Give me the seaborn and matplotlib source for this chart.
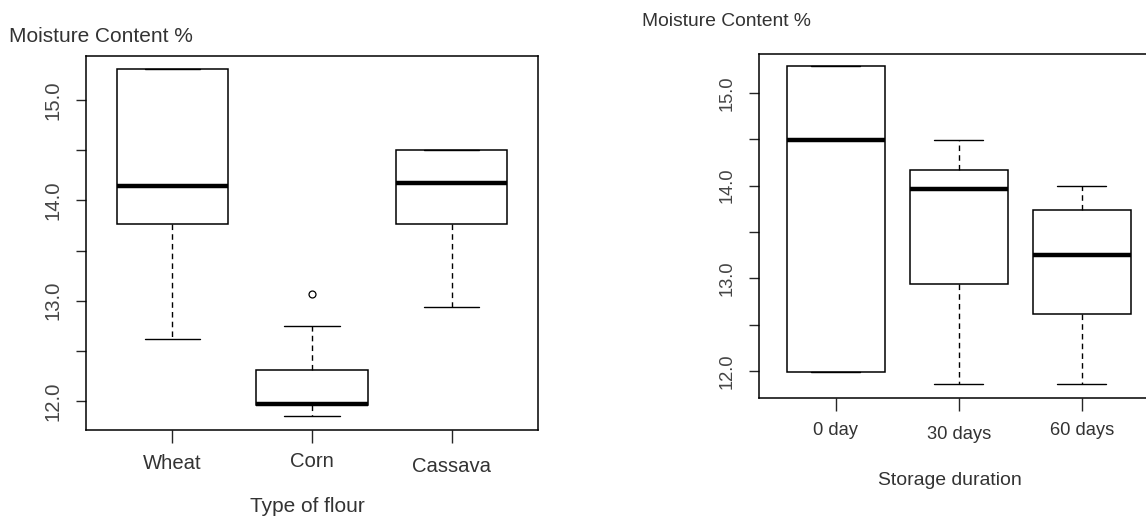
import matplotlib
matplotlib.use("Agg")
import pandas as pd
import matplotlib.pyplot as plt
import seaborn as sns
from matplotlib import font_manager
from matplotlib.transforms import ScaledTranslation

# Box statistics: whisker low, Q1, median, Q3, whisker high
flour_types = ["Wheat", "Corn", "Cassava"]
flour_low = [12.62, 11.85, 12.94]
flour_q1 = [13.76, 11.955, 13.76]
flour_med = [14.145, 11.97, 14.17]
flour_q3 = [15.31, 12.31, 14.50]
flour_high = [15.31, 12.75, 14.50]
flour_outliers = [[], [13.07], []]

storage_days = ["0 day", "30 days", "60 days"]
storage_low = [11.99, 11.86, 11.86]
storage_q1 = [11.99, 12.94, 12.62]
storage_med = [14.49, 13.96, 13.25]
storage_q3 = [15.29, 14.17, 13.74]
storage_high = [15.29, 14.49, 14.00]
storage_outliers = [[], [], []]

y_ticks = [12.0, 12.5, 13.0, 13.5, 14.0, 14.5, 15.0]
y_ticklabels = ["12.0", "", "13.0", "", "14.0", "", "15.0"]


def to_frame(groups, low, q1, med, q3, high, outliers):
    # points that give exactly these quartiles / whiskers in the boxplot
    rows = []
    for g, lo, a, m, b, hi, out in zip(groups, low, q1, med, q3, high, outliers):
        for v in [lo, a, a, m, m, b, b, hi] + list(out):
            rows.append((g, v))
    return pd.DataFrame(rows, columns=["group", "value"])


flour_df = to_frame(flour_types, flour_low, flour_q1, flour_med, flour_q3, flour_high, flour_outliers)
storage_df = to_frame(storage_days, storage_low, storage_q1, storage_med, storage_q3, storage_high, storage_outliers)

sns.set_style("white")
names = set(font_manager.get_font_names())
if "Liberation Sans Narrow" in names:
    font, k = "Liberation Sans Narrow", 1.0
else:
    font, k = "Liberation Sans", 0.91
plt.rcParams["font.family"] = [font, "DejaVu Sans"]
txt = "#333333"

W, H = 1146, 522
fig = plt.figure(figsize=(W / 100, H / 100), dpi=100)


def px_axes(left, top, right, bottom):
    return fig.add_axes([left / W, 1 - bottom / H, (right - left) / W, (bottom - top) / H])


def draw_box(ax, df, order, size):
    sns.boxplot(data=df, x="group", y="value", order=order, ax=ax, width=0.8,
                color="white", linecolor="black", linewidth=1.1,
                medianprops=dict(linewidth=3.2, color="black", solid_capstyle="butt"),
                whiskerprops=dict(linestyle=(0, (4, 3)), linewidth=1.0),
                capprops=dict(linewidth=1.0),
                flierprops=dict(marker="o", markersize=5, markerfacecolor="none",
                                markeredgecolor="black", markeredgewidth=0.9))
    ax.set_ylabel("")
    ax.set_yticks(y_ticks)
    ax.set_yticklabels(y_ticklabels, rotation=90, va="center", fontsize=size, color="#444444")
    ax.tick_params(axis="y", direction="out", length=7, width=1, pad=10, left=True)
    ax.tick_params(axis="x", direction="out", length=9, width=1, pad=8, bottom=True,
                   labelsize=size, labelcolor=txt)
    for s in ax.spines.values():
        s.set_visible(True)
        s.set_color("black")
        s.set_linewidth(1.1)


# ---- left: type of flour
ax1 = px_axes(86, 56, 538, 430)
draw_box(ax1, flour_df, flour_types, 16 * k)
ax1.set_xlim(-0.62, 2.62)
ax1.set_ylim(11.71, 15.44)
ax1.set_xlabel("Type of flour", fontsize=16.5 * k, color=txt)
ax1.xaxis.set_label_coords(0.49, -0.18)
for lab, dy in zip(ax1.get_xticklabels(), [0, 1.5, -3]):
    lab.set_transform(lab.get_transform() + ScaledTranslation(0, dy / 100, fig.dpi_scale_trans))
fig.text(9 / W, 1 - 37 / H, "Moisture Content %", fontsize=16.5 * k, color=txt,
         ha="left", va="center")

# ---- right: storage duration
ax2 = px_axes(759, 54, 1158, 398)
draw_box(ax2, storage_df, storage_days, 14.5 * k)
ax2.set_xlim(-0.625, 2.62)
ax2.set_ylim(11.71, 15.42)
ax2.set_xlabel("Storage duration", fontsize=15.3 * k, color=txt)
ax2.xaxis.set_label_coords((950 - 759) / 399, -0.215)
for lab, dy in zip(ax2.get_xticklabels(), [0, -4, 0]):
    lab.set_transform(lab.get_transform() + ScaledTranslation(0, dy / 100, fig.dpi_scale_trans))
fig.text(642 / W, 1 - 22 / H, "Moisture Content %", fontsize=15.2 * k, color=txt,
         ha="left", va="center")

fig.savefig("out.png", dpi=100)
